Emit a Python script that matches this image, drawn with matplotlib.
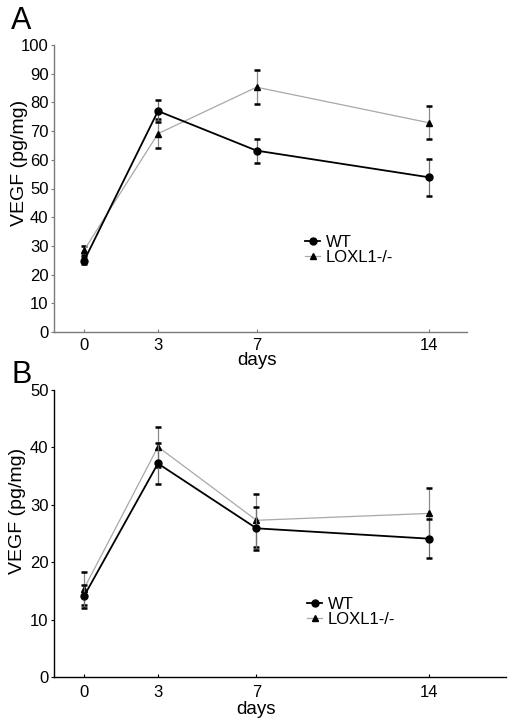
import matplotlib
matplotlib.use("Agg")
import matplotlib.pyplot as plt
from matplotlib.lines import Line2D

plt.rcParams['font.family'] = ['Liberation Sans', 'DejaVu Sans']

days = [0, 3, 7, 14]
xtick_labels = ['0', '3', '7', '14']

# Panel A
a_wt = [24.8, 77.0, 63.2, 53.9]
a_wt_err = [1.2, 4.0, 4.2, 6.4]
a_ko = [28.5, 69.1, 85.3, 72.9]
a_ko_err = [1.5, 5.0, 6.0, 5.7]
a_yticks = [0, 10, 20, 30, 40, 50, 60, 70, 80, 90, 100]

# Panel B
b_wt = [14.1, 37.2, 25.9, 24.1]
b_wt_err = [2.0, 3.5, 3.7, 3.4]
b_ko = [15.4, 40.1, 27.3, 28.5]
b_ko_err = [2.9, 3.5, 4.6, 4.4]
b_yticks = [0, 10, 20, 30, 40, 50]

W, H = 517, 722
fig = plt.figure(figsize=(W / 100, H / 100), dpi=100)

def px_axes(l, r, t, b):
    return fig.add_axes([l / W, 1 - b / H, (r - l) / W, (b - t) / H])

axA = px_axes(54, 467, 45, 332)
axB = px_axes(54, 506, 390, 677)

def blacken_caps(c):
    for cl in c[1]:
        cl.set_markeredgecolor('black')
        cl.set_markerfacecolor('black')
        cl.set_color('black')

def draw(ax, wt, wte, ko, koe, yticks, ymax, xmax, spine_color, leg_xy, ylab_y, xlab_y, xpad):
    # LOXL1 -/-
    c = ax.errorbar(days, ko, yerr=koe, color='#a8a8a8', lw=0.9, ecolor='#8a8a8a',
                    elinewidth=0.9, capsize=2.3, capthick=1.8,
                    marker='^', ms=4.8, mfc='black', mec='black', zorder=2)
    blacken_caps(c)
    # WT
    c = ax.errorbar(days, wt, yerr=wte, color='black', lw=1.3, ecolor='#707070',
                    elinewidth=0.9, capsize=2.3, capthick=1.8,
                    marker='o', ms=5.0, mfc='black', mec='black', zorder=3)
    blacken_caps(c)
    ax.set_xlim(-1.22, xmax)
    ax.set_ylim(0, ymax)
    ax.set_xticks(days)
    ax.set_xticklabels(xtick_labels)
    ax.set_yticks(yticks)
    for s in ['top', 'right']:
        ax.spines[s].set_visible(False)
    for s in ['left', 'bottom']:
        ax.spines[s].set_color(spine_color)
        ax.spines[s].set_linewidth(1.0)
    ax.tick_params(axis='y', direction='out', length=2.5, width=0.8, color=spine_color,
                   labelsize=12, pad=1.5)
    ax.tick_params(axis='x', direction='in', length=2.5, width=0.8, color=spine_color,
                   labelsize=12, pad=xpad)
    ax.set_ylabel('VEGF (pg/mg)', fontsize=14)
    ax.yaxis.set_label_coords(-0.062, ylab_y)
    ax.set_xlabel('days', fontsize=13.5, labelpad=0)
    ax.xaxis.set_label_coords((7 + 1.22) / (xmax + 1.22), xlab_y)
    handles = [Line2D([], [], color='black', lw=1.3, marker='o', ms=5, mfc='black', mec='black'),
               Line2D([], [], color='#a8a8a8', lw=0.9, marker='^', ms=4.5, mfc='black', mec='black')]
    ax.legend(handles, ['WT', 'LOXL1-/-'], loc='center left', bbox_to_anchor=leg_xy,
              frameon=False, fontsize=12, handlelength=0.9, handletextpad=0.35,
              labelspacing=0.0, borderpad=0, borderaxespad=0)

draw(axA, a_wt, a_wt_err, a_ko, a_ko_err, a_yticks, 100, 15.54, '#7a7a7a',
     ((305 - 54) / 413, (332 - 250) / 287), 0.59, -0.068, 4)
draw(axB, b_wt, b_wt_err, b_ko, b_ko_err, b_yticks, 50, 17.13, 'black',
     ((307 - 54) / 452, (677 - 612) / 287), 0.578, -0.082, 6)

fig.text(11 / W, 1 - 21 / H, 'A', fontsize=22, ha='left', va='center')
fig.text(11 / W, 1 - 375 / H, 'B', fontsize=22, ha='left', va='center')

fig.savefig('out.png', dpi=100)
